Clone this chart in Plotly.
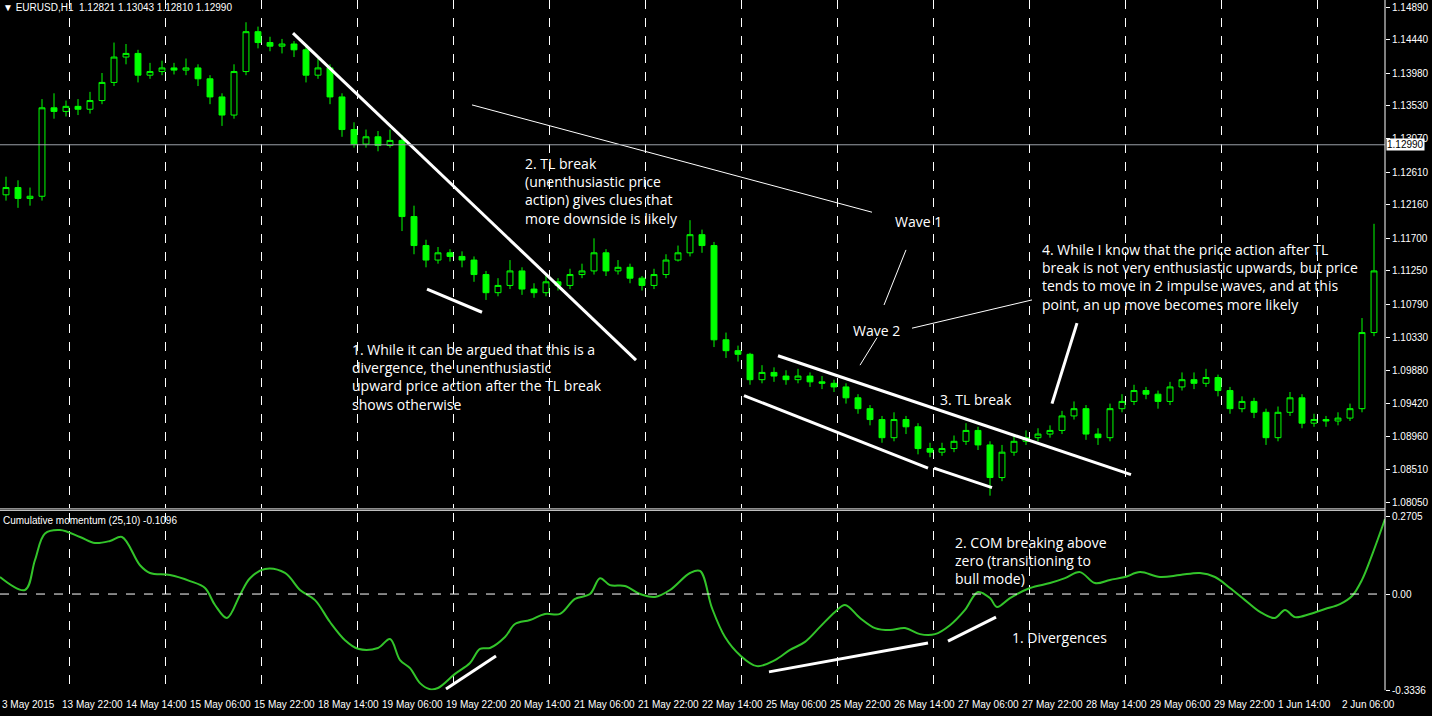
import plotly.graph_objects as go

# ---- price data (H1 chart, resampled to 3-hour bars) ----
bar_hours = [1.5 + 3 * i for i in range(115)]
closes = [1.1240, 1.1225, 1.1228, 1.1350, 1.1345, 1.1352, 1.1348, 1.1360, 1.1385, 1.1420,
          1.1425, 1.1395, 1.1400, 1.1405, 1.1402, 1.1405, 1.1390, 1.1365, 1.1340, 1.1400,
          1.1455, 1.1440, 1.1435, 1.1438, 1.1430, 1.1395, 1.1405, 1.1365, 1.1320, 1.1300,
          1.1310, 1.1298, 1.1305, 1.1200, 1.1160, 1.1140, 1.1150, 1.1145, 1.1140, 1.1120,
          1.1095, 1.1105, 1.1125, 1.1100, 1.1095, 1.1110, 1.1105, 1.1120, 1.1125, 1.1150,
          1.1125, 1.1130, 1.1115, 1.1105, 1.1120, 1.1140, 1.1150, 1.1175, 1.1160, 1.1030,
          1.1015, 1.1010, 1.0975, 1.0985, 1.0980, 1.0975, 1.0980, 1.0972, 1.0970, 1.0965,
          1.0950, 1.0935, 1.0920, 1.0895, 1.0920, 1.0910, 1.0880, 1.0875, 1.0880, 1.0890,
          1.0905, 1.0885, 1.0840, 1.0875, 1.0890, 1.0895, 1.0900, 1.0905, 1.0925, 1.0935,
          1.0900, 1.0895, 1.0935, 1.0945, 1.0960, 1.0955, 1.0945, 1.0965, 1.0975, 1.0970,
          1.0978, 1.0960, 1.0935, 1.0945, 1.0930, 1.0895, 1.0930, 1.0950, 1.0915, 1.0920,
          1.0918, 1.0922, 1.0935, 1.1040, 1.1125]
highs = [1.1255, 1.1250, 1.1240, 1.1362, 1.1370, 1.1360, 1.1362, 1.1372, 1.1398, 1.1440,
         1.1438, 1.1430, 1.1412, 1.1415, 1.1412, 1.1418, 1.1410, 1.1395, 1.1370, 1.1410,
         1.1468, 1.1462, 1.1448, 1.1445, 1.1442, 1.1435, 1.1418, 1.1410, 1.1370, 1.1330,
         1.1320, 1.1318, 1.1320, 1.1312, 1.1215, 1.1168, 1.1158, 1.1155, 1.1152, 1.1145,
         1.1125, 1.1115, 1.1140, 1.1130, 1.1108, 1.1120, 1.1115, 1.1128, 1.1135, 1.1170,
         1.1155, 1.1140, 1.1135, 1.1118, 1.1128, 1.1148, 1.1160, 1.1195, 1.1182, 1.1165,
         1.1040, 1.1022, 1.1012, 1.0995, 1.0992, 1.0988, 1.0990, 1.0985, 1.0980, 1.0975,
         1.0970, 1.0955, 1.0940, 1.0925, 1.0930, 1.0925, 1.0915, 1.0888, 1.0888, 1.0898,
         1.0915, 1.0910, 1.0890, 1.0885, 1.0900, 1.0905, 1.0908, 1.0912, 1.0932, 1.0945,
         1.0940, 1.0908, 1.0942, 1.0955, 1.0968, 1.0965, 1.0960, 1.0972, 1.0985, 1.0985,
         1.0990, 1.0982, 1.0965, 1.0952, 1.0950, 1.0935, 1.0938, 1.0958, 1.0955, 1.0928,
         1.0925, 1.0930, 1.0942, 1.1060, 1.1190]
lows = [1.1222, 1.1212, 1.1215, 1.1222, 1.1335, 1.1338, 1.1340, 1.1342, 1.1355, 1.1380,
        1.1410, 1.1385, 1.1390, 1.1395, 1.1396, 1.1395, 1.1380, 1.1355, 1.1325, 1.1335,
        1.1395, 1.1432, 1.1428, 1.1425, 1.1420, 1.1385, 1.1390, 1.1355, 1.1310, 1.1295,
        1.1295, 1.1290, 1.1295, 1.1180, 1.1148, 1.1130, 1.1135, 1.1138, 1.1130, 1.1110,
        1.1085, 1.1090, 1.1100, 1.1092, 1.1088, 1.1090, 1.1098, 1.1100, 1.1115, 1.1120,
        1.1118, 1.1120, 1.1108, 1.1098, 1.1100, 1.1115, 1.1138, 1.1145, 1.1150, 1.1020,
        1.1005, 1.1000, 1.0968, 1.0970, 1.0972, 1.0968, 1.0970, 1.0965, 1.0962, 1.0958,
        1.0942, 1.0928, 1.0912, 1.0888, 1.0890, 1.0900, 1.0872, 1.0868, 1.0870, 1.0875,
        1.0885, 1.0878, 1.0815, 1.0835, 1.0870, 1.0885, 1.0890, 1.0895, 1.0900, 1.0920,
        1.0892, 1.0885, 1.0890, 1.0930, 1.0940, 1.0948, 1.0935, 1.0940, 1.0960, 1.0962,
        1.0965, 1.0952, 1.0928, 1.0930, 1.0922, 1.0885, 1.0890, 1.0925, 1.0908, 1.0910,
        1.0910, 1.0912, 1.0918, 1.0930, 1.1035]
opens = [1.1230] + closes[:-1]

# ---- cumulative momentum (25,10) ----
com_px = [0, 25, 35, 45, 60, 80, 95, 110, 122, 140, 150, 170, 190, 205, 215, 227, 240, 250, 265,
          285, 300, 315, 330, 345, 358, 378, 390, 400, 410, 420, 430, 438, 455, 470, 480, 490,
          505, 515, 530, 545, 560, 575, 590, 600, 610, 625, 640, 655, 670, 690, 700, 712, 725,
          740, 757, 775, 790, 805, 820, 835, 845, 860, 875, 890, 905, 920, 935, 950, 965, 978,
          990, 997, 1010, 1030, 1050, 1065, 1080, 1095, 1110, 1125, 1140, 1160, 1180, 1200,
          1215, 1230, 1245, 1260, 1275, 1285, 1295, 1310, 1325, 1340, 1352, 1362, 1372, 1385]
com_hours = [p / 4 for p in com_px]
com_values = [0.059, 0.014, 0.118, 0.21, 0.222, 0.198, 0.177, 0.184, 0.198, 0.10, 0.073, 0.066,
              0.045, 0.021, -0.038, -0.083, -0.003, 0.055, 0.087, 0.073, 0.014, -0.021, -0.097,
              -0.16, -0.19, -0.187, -0.156, -0.229, -0.257, -0.309, -0.33, -0.326, -0.277,
              -0.239, -0.19, -0.187, -0.149, -0.104, -0.09, -0.069, -0.069, -0.017, 0.0, 0.055,
              0.031, 0.028, 0.0, -0.01, 0.014, 0.073, 0.08, -0.049, -0.149, -0.212, -0.25,
              -0.229, -0.194, -0.166, -0.114, -0.062, -0.038, -0.083, -0.118, -0.125, -0.118,
              -0.139, -0.139, -0.108, -0.055, 0.007, -0.014, -0.045, -0.014, 0.021, 0.038,
              0.055, 0.076, 0.038, 0.049, 0.059, 0.076, 0.059, 0.066, 0.073, 0.059, 0.021,
              -0.021, -0.062, -0.083, -0.055, -0.08, -0.069, -0.052, -0.035, -0.007, 0.049,
              0.135, 0.26]

price_ticks = [1.14890, 1.14440, 1.13980, 1.13530, 1.13070, 1.12610, 1.12160, 1.11700, 1.11250,
               1.10790, 1.10330, 1.09880, 1.09420, 1.08960, 1.08510, 1.08050]
com_ticks = [0.2705, 0.0, -0.3336]
com_tick_text = ["0.2705", "0.00", "-0.3336"]
last_price = 1.12990

x_labels = ["3 May 2015", "13 May 22:00", "14 May 14:00", "15 May 06:00", "15 May 22:00",
            "18 May 14:00", "19 May 06:00", "19 May 22:00", "20 May 14:00", "21 May 06:00",
            "21 May 22:00", "22 May 14:00", "25 May 06:00", "25 May 22:00", "26 May 14:00",
            "27 May 06:00", "27 May 22:00", "28 May 14:00", "29 May 06:00", "29 May 22:00",
            "1 Jun 14:00", "2 Jun 06:00"]
x_label_hours = [0] + [(60 + 64 * k) / 4 for k in range(21)]
grid_hours = [17.25 + 24 * k for k in range(14)]

FONT = "Liberation Sans"
GREEN = "#00ff00"

fig = go.Figure()
fig.add_trace(go.Candlestick(
    x=bar_hours, open=opens, high=highs, low=lows, close=closes,
    increasing=dict(line=dict(color=GREEN, width=1), fillcolor="black"),
    decreasing=dict(line=dict(color=GREEN, width=1), fillcolor=GREEN),
    whiskerwidth=0, xaxis="x", yaxis="y", hoverinfo="skip"))
fig.add_trace(go.Scatter(
    x=com_hours, y=com_values, mode="lines", line=dict(color="#33c42a", width=2, shape="spline"),
    xaxis="x2", yaxis="y2", hoverinfo="skip"))

# white trend lines
thick = [("x", "y", 73.25, 1.1453, 159, 1.1002), ("x", "y", 106.75, 1.1100, 120.5, 1.1068),
         ("x", "y", 194.5, 1.1008, 282.75, 1.0844), ("x", "y", 186, 1.0953, 232, 1.0853),
         ("x", "y", 233.5, 1.0853, 248, 1.0826), ("x", "y", 263, 1.0942, 269.25, 1.1053),
         ("x2", "y2", 111.5, -0.329, 124, -0.215), ("x2", "y2", 192.25, -0.27, 232, -0.17),
         ("x2", "y2", 237, -0.163, 249, -0.08)]
thin = [("x", "y", 118, 1.1354, 218, 1.1206), ("x", "y", 226.5, 1.1154, 221, 1.1078),
        ("x", "y", 215, 1.0995, 219.25, 1.1033), ("x", "y", 228, 1.1046, 258, 1.1085)]
shapes = []
for w, group in ((3, thick), (1, thin)):
    for xr, yr, x0, y0, x1, y1 in group:
        shapes.append(dict(type="line", xref=xr, yref=yr, x0=x0, y0=y0, x1=x1, y1=y1,
                           line=dict(color="white", width=w)))
shapes.append(dict(type="line", xref="paper", yref="y", x0=0, x1=1, y0=last_price,
                   y1=last_price, line=dict(color="#9aa0a8", width=1)))
shapes.append(dict(type="line", xref="paper", yref="y2", x0=0, x1=1, y0=0, y1=0,
                   line=dict(color="white", width=1, dash="dash")))
for yy in (0.2872, 0.2893):
    shapes.append(dict(type="line", xref="paper", yref="paper", x0=0, x1=1, y0=yy, y1=yy,
                       line=dict(color="#dddddd", width=1)))
shapes.append(dict(type="line", xref="paper", yref="paper", x0=1, x1=1, y0=0.036, y1=1,
                   line=dict(color="white", width=1)))

notes = [
    ("x", "y", 130.75, 1.1289, "2. TL break<br>(unenthusiastic price<br>action) gives clues that<br>more downside is likely"),
    ("x", "y", 223.25, 1.1209, "Wave 1"),
    ("x", "y", 212.75, 1.1059, "Wave 2"),
    ("x", "y", 260, 1.1170, "4. While I know that the price action after TL<br>break is not very enthusiastic upwards, but price<br>tends to move in 2 impulse waves, and at this<br>point, an up move becomes more likely"),
    ("x", "y", 87.5, 1.1033, "1. While it can be argued that this is a<br>divergence, the unenthusiastic<br>upward price action after the TL break<br>shows otherwise"),
    ("x", "y", 234.5, 1.0964, "3. TL break"),
    ("x2", "y2", 238.25, 0.2186, "2. COM breaking above<br>zero (transitioning to<br>bull mode)"),
    ("x2", "y2", 252.5, -0.111, "1. Divergences"),
]
annotations = [dict(xref=xr, yref=yr, x=x, y=y, text=t, showarrow=False, xanchor="left",
                    yanchor="top", align="left", font=dict(family="Open Sans", size=14, color="white"))
               for xr, yr, x, y, t in notes]
annotations.append(dict(xref="paper", yref="paper", x=0.001, y=0.9995, xanchor="left", yanchor="top",
                        showarrow=False, text="▼ EURUSD,H1  1.12821 1.13043 1.12810 1.12990",
                        font=dict(family=FONT, size=10, color="white")))
annotations.append(dict(xref="paper", yref="paper", x=0.001, y=0.283, xanchor="left", yanchor="top",
                        showarrow=False, text="Cumulative momentum (25,10) -0.1096",
                        font=dict(family=FONT, size=10, color="white")))
annotations.append(dict(xref="paper", yref="y", x=1.001, y=last_price, xanchor="left", yanchor="middle",
                        showarrow=False, text="1.12990", bgcolor="white", borderpad=0,
                        font=dict(family=FONT, size=10, color="black")))
for h, t in zip(x_label_hours, x_labels):
    annotations.append(dict(xref="x2", yref="paper", x=h, y=0.016, xanchor="left", yanchor="middle",
                            showarrow=False, text=t, font=dict(family=FONT, size=10, color="white")))

xcommon = dict(range=[0, 346.25], domain=[0, 1], tickvals=grid_hours, showticklabels=False,
               showgrid=True, gridcolor="white", griddash="dash", gridwidth=1, zeroline=False,
               showline=False, ticks="", fixedrange=True)
fig.update_layout(
    width=1432, height=716, margin=dict(l=0, r=47, t=0, b=0, autoexpand=False),
    paper_bgcolor="black", plot_bgcolor="black", showlegend=False,
    xaxis=dict(anchor="y", rangeslider=dict(visible=False), **xcommon),
    xaxis2=dict(anchor="y2", matches="x", **xcommon),
    yaxis=dict(domain=[0.2905, 1], range=[1.0798, 1.14987], side="right", anchor="x",
               tickvals=price_ticks, ticktext=[f"{v:.5f}" for v in price_ticks], automargin=False,
               showgrid=False, zeroline=False, ticks="outside", ticklen=4, tickcolor="white",
               tickfont=dict(family=FONT, size=10, color="white")),
    yaxis2=dict(domain=[0.036, 0.2835], range=[-0.3336, 0.281], side="right", anchor="x2",
                tickvals=com_ticks, ticktext=com_tick_text, showgrid=False, zeroline=False,
                ticks="outside", ticklen=4, tickcolor="white", automargin=False,
                tickfont=dict(family=FONT, size=10, color="white")),
    shapes=shapes, annotations=annotations,
)

fig.write_html("out.html", config={"displayModeBar": False},
               post_script="document.body.style.margin='0';document.body.style.background='black';")
